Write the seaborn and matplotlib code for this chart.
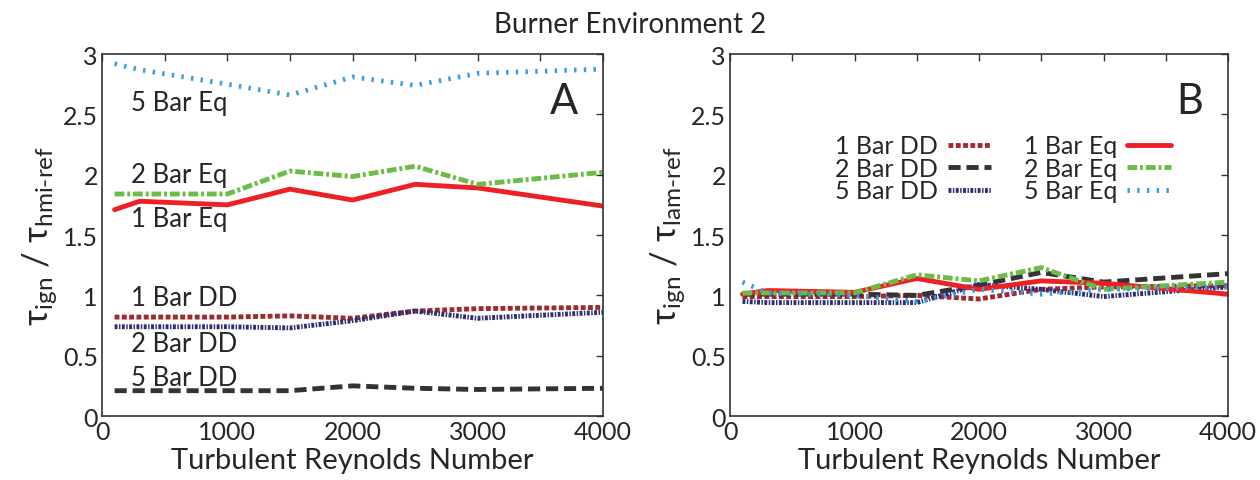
import seaborn as sns
import matplotlib.pyplot as plt
import pandas as pd
import numpy as np

# Turbulent Reynolds number sample points
re_t = [100, 300, 1000, 1500, 2000, 2500, 3000, 4000]

# Panel A: tau_ign / tau_hmi-ref
a_1bar_dd = [0.82, 0.82, 0.82, 0.83, 0.81, 0.87, 0.89, 0.90]
a_2bar_dd = [0.21, 0.21, 0.21, 0.21, 0.25, 0.23, 0.22, 0.23]
a_5bar_dd = [0.74, 0.74, 0.74, 0.73, 0.79, 0.87, 0.81, 0.86]
a_1bar_eq = [1.71, 1.78, 1.75, 1.88, 1.79, 1.92, 1.89, 1.74]
a_2bar_eq = [1.84, 1.84, 1.84, 2.03, 1.985, 2.07, 1.92, 2.02]
a_5bar_eq = [2.92, 2.87, 2.75, 2.66, 2.81, 2.74, 2.84, 2.875]

# Panel B: tau_ign / tau_lam-ref
b_1bar_dd = [0.99, 0.99, 0.99, 1.0, 0.97, 1.05, 1.07, 1.08]
b_2bar_dd = [1.01, 1.01, 1.01, 1.0, 1.085, 1.19, 1.11, 1.18]
b_5bar_dd = [0.95, 0.94, 0.94, 0.94, 1.09, 1.05, 0.99, 1.07]
b_1bar_eq = [1.01, 1.04, 1.025, 1.14, 1.05, 1.12, 1.10, 1.01]
b_2bar_eq = [1.02, 1.02, 1.02, 1.17, 1.12, 1.23, 1.05, 1.11]
b_5bar_eq = [1.11, 1.02, 1.0, 0.95, 1.05, 1.01, 1.05, 1.07]

series = ["1 Bar DD", "2 Bar DD", "5 Bar DD", "1 Bar Eq", "2 Bar Eq", "5 Bar Eq"]
colors = {"1 Bar DD": "#9e2a2f", "2 Bar DD": "#333333", "5 Bar DD": "#2c2f6e",
          "1 Bar Eq": "#ee2026", "2 Bar Eq": "#6cbd45", "5 Bar Eq": "#3b9cdb"}
dashes = {"1 Bar DD": (1.0, 0.5), "2 Bar DD": (2.5, 1.2), "5 Bar DD": (0.6, 0.3, 0.3, 0.3),
          "1 Bar Eq": "", "2 Bar Eq": (2.0, 0.6, 0.6, 0.6), "5 Bar Eq": (0.5, 1.5)}


def long_df(vals):
    rows = []
    for name, ys in zip(series, vals):
        for x, y in zip(re_t, ys):
            rows.append({"Re": x, "ratio": y, "case": name})
    return pd.DataFrame(rows)


df_a = long_df([a_1bar_dd, a_2bar_dd, a_5bar_dd, a_1bar_eq, a_2bar_eq, a_5bar_eq])
df_b = long_df([b_1bar_dd, b_2bar_dd, b_5bar_dd, b_1bar_eq, b_2bar_eq, b_5bar_eq])

sns.set_style("white")
plt.rcParams["font.family"] = ["Lato", "DejaVu Sans"]
plt.rcParams["mathtext.fontset"] = "custom"
plt.rcParams["mathtext.rm"] = "Lato"
plt.rcParams["mathtext.it"] = "Lato:italic"

fig = plt.figure(figsize=(12.6, 4.81), dpi=100)
ax1 = fig.add_axes([0.081, 0.133, 0.3976, 0.7526])
ax2 = fig.add_axes([0.5794, 0.133, 0.3952, 0.7526])

for ax, df in [(ax1, df_a), (ax2, df_b)]:
    sns.lineplot(data=df, x="Re", y="ratio", hue="case", style="case",
                 hue_order=series, style_order=series, palette=colors,
                 dashes=dashes, linewidth=3.5, sort=False, estimator=None,
                 legend=False, ax=ax)
    ax.set_xlim(0, 4000)
    ax.set_ylim(0, 3)
    ax.set_xticks([0, 1000, 2000, 3000, 4000])
    ax.set_xticks(np.arange(500, 4000, 1000), minor=True)
    ax.set_yticks(np.arange(0, 3.01, 0.5))
    ax.set_yticklabels(["0", "0.5", "1", "1.5", "2", "2.5", "3"])
    ax.tick_params(which="both", direction="in", top=True, right=True,
                   length=5, width=1, labelsize=18, pad=3, color="#333333")
    for sp in ax.spines.values():
        sp.set_color("#333333")
        sp.set_linewidth(1.2)
    ax.set_xlabel("Turbulent Reynolds Number", fontsize=21, labelpad=3)

ax1.set_ylabel(u"\u03c4$_{\\mathrm{ign}}$ / \u03c4$_{\\mathrm{hmi\\text{-}ref}}$", fontsize=25, labelpad=2)
ax2.set_ylabel(u"\u03c4$_{\\mathrm{ign}}$ / \u03c4$_{\\mathrm{lam\\text{-}ref}}$", fontsize=25, labelpad=2)

ax1.text(0.95, 0.87, "A", transform=ax1.transAxes, fontsize=30, ha="right", va="center")
ax2.text(0.95, 0.87, "B", transform=ax2.transAxes, fontsize=30, ha="right", va="center")

# inline labels on panel A
for txt, y in [("5 Bar Eq", 2.6), ("2 Bar Eq", 2.0), ("1 Bar Eq", 1.64),
               ("1 Bar DD", 0.98), ("2 Bar DD", 0.6), ("5 Bar DD", 0.32)]:
    ax1.text(230, y, txt, fontsize=18.5, ha="left", va="center")

handles = [plt.Line2D([], [], color=colors[s], linewidth=3.5,
                      dashes=dashes[s] if dashes[s] != "" else (None, None),
                      linestyle="-") for s in series]
ax2.legend(handles, series, ncol=2, frameon=False, markerfirst=False,
           fontsize=18, handlelength=1.75, handletextpad=0.4, columnspacing=1.3,
           labelspacing=-0.02, loc="upper left", bbox_to_anchor=(0.165, 0.84))

fig.suptitle("Burner Environment 2", fontsize=20, y=0.975)

fig.savefig("out.png", dpi=100)
